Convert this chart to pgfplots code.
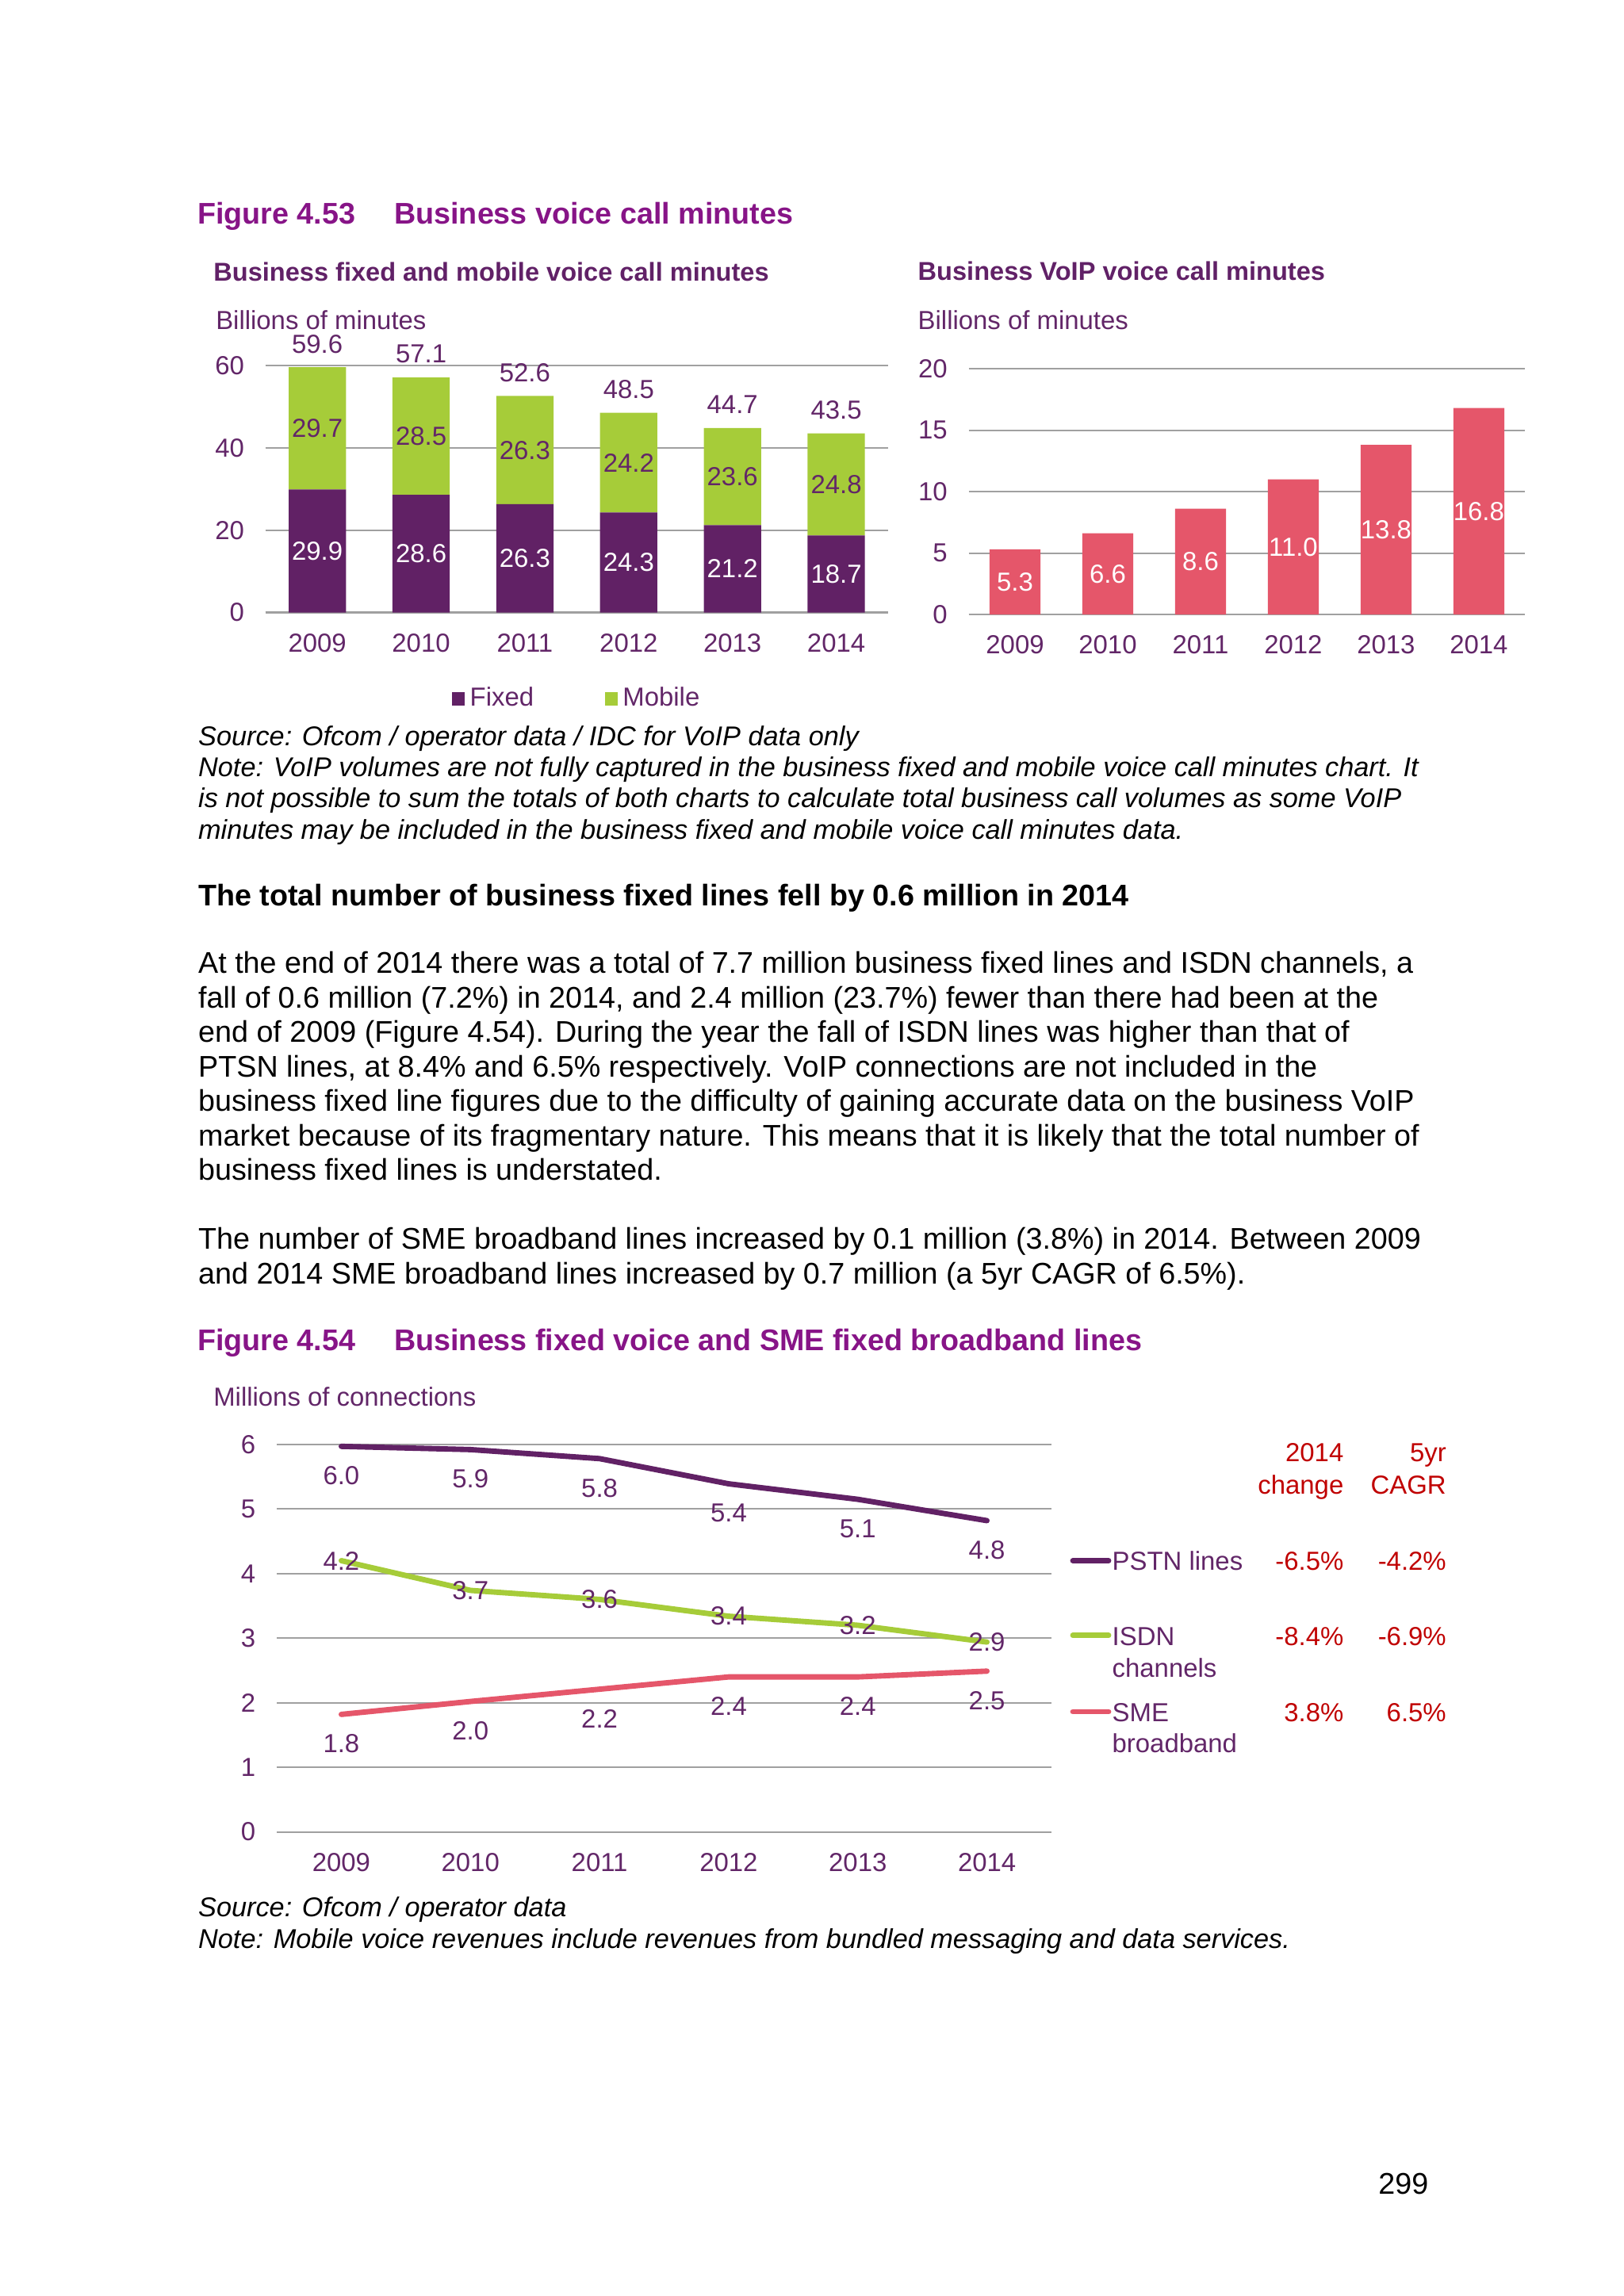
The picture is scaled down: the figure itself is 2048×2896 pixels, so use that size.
\documentclass[border=0pt]{standalone}
\usepackage{fontspec}
\setmainfont{Liberation Sans}
\usepackage{pgfplots}
\pgfplotsset{compat=1.18}

\definecolor{titlepurple}{RGB}{135,20,135}
\definecolor{darkpurple}{RGB}{97,33,103}
\definecolor{txtpurple}{RGB}{98,38,104}
\definecolor{fixedc}{RGB}{97,33,101}
\definecolor{mobilec}{RGB}{166,204,57}
\definecolor{pinkc}{RGB}{229,86,106}
\definecolor{gridc}{RGB}{160,160,160}
\definecolor{tablered}{RGB}{192,0,0}

\newcommand\chartfont{\fontsize{9.6}{11.5}\selectfont}
\newcommand\bodyfont{\fontsize{11}{12.7}\selectfont}
\newcommand\notefont{\fontsize{10}{11.5}\selectfont\itshape}
\newcommand\titlefont{\fontsize{11}{13}\selectfont\bfseries}
\newcommand\subfont{\fontsize{9.5}{11}\selectfont\bfseries}
% text line at (x,y) in page pixels, y = baseline
\newcommand\txt[4][]{\node[anchor=base west,inner sep=0pt,#1] at (#2,#3) {#4};}
\newcommand\rtxt[4][]{\node[anchor=base east,inner sep=0pt,#1] at (#2,#3) {#4};}

\pgfplotsset{
  myaxis/.style={
    scale only axis,
    axis x line*=bottom, axis y line*=left,
    y axis line style={draw=none},
    x axis line style={gridc,line width=0.6pt},
    ytick style={draw=none}, xtick style={draw=none},
    ymajorgrids, major grid style={gridc,line width=0.6pt},
    xmin=-0.5, xmax=5.5, xtick={0,...,5},
    xticklabels={2009,2010,2011,2012,2013,2014},
    minor xtick={-0.5,0.5,...,5.5},
    minor x tick style={gridc,line width=0.6pt},
    minor tick length=0.1cm, tick align=outside,
    ticklabel style={font=\chartfont,text=txtpurple},
    /pgf/number format/assume math mode=true,
    clip=false,
  },
  barlab/.style={nodes near coords, point meta=explicit symbolic,
    visualization depends on={rawy \as \rawy},
    every node near coord/.append style={font=\chartfont,text=#1,anchor=center}},
  sq/.style={legend image code/.code={\fill[##1] (0cm,-0.09cm) rectangle (0.16cm,0.09cm);}},
}

\begin{document}
\begin{tikzpicture}[x=0.0102539cm,y=-0.0102539cm]
\path[use as bounding box,fill=white] (0,0) rectangle (2048,2896);

% ---- Figure 4.53 ----
\txt[font=\titlefont,text=titlepurple]{248.6}{282}{Figure 4.53}
\txt[font=\titlefont,text=titlepurple]{496.6}{282}{Business voice call minutes}
\txt[font=\subfont,text=darkpurple]{268.7}{354.5}{Business fixed and mobile voice call minutes}
\txt[font=\subfont,text=darkpurple]{1157}{353.5}{Business VoIP voice call minutes}
\txt[font=\chartfont,text=txtpurple]{271.6}{415}{Billions of minutes}
\txt[font=\chartfont,text=txtpurple]{1157}{415}{Billions of minutes}

\begin{axis}[myaxis, at={(3.4320cm,-7.9211cm)}, anchor=south west,
  width=8.0524cm, height=3.1941cm,
  ybar stacked, bar width=0.7414cm, stacked ignores zero=false,
  ymin=0, ymax=60, ytick={0,20,40,60},
  legend style={at={(0.503,-0.35)}, anchor=center, draw=none, fill=none,
    legend columns=-1, font=\chartfont, text=txtpurple,
    /tikz/every even column/.append style={column sep=0.85cm}},
  ]
\addplot[fill=fixedc, draw=none, sq, barlab=white]
  coordinates {(0,29.9)[29.9] (1,28.6)[28.6] (2,26.3)[26.3] (3,24.3)[24.3] (4,21.2)[21.2] (5,18.7)[18.7]};
\addlegendentry{Fixed}
\addplot[fill=mobilec, draw=none, sq, barlab=txtpurple]
  coordinates {(0,29.7)[29.7] (1,28.5)[28.5] (2,26.3)[26.3] (3,24.2)[24.2] (4,23.6)[23.6] (5,24.8)[24.8]};
\addlegendentry{Mobile}
\addplot[draw=none, fill=none, forget plot, barlab=txtpurple,
  every node near coord/.append style={yshift=0.30cm}]
  coordinates {(0,0)[59.6] (1,0)[57.1] (2,0)[52.6] (3,0)[48.5] (4,0)[44.7] (5,0)[43.5]};
\end{axis}

\begin{axis}[myaxis, at={(12.5251cm,-7.9468cm)}, anchor=south west,
  width=7.1972cm, height=3.1787cm,
  ybar, bar width=0.6593cm,
  ymin=0, ymax=20, ytick={0,5,...,20},
  ]
\addplot[fill=pinkc, draw=none, barlab=white,
  every node near coord/.append style={yshift=-\rawy*0.07947cm}]
  coordinates {(0,5.3)[5.3] (1,6.6)[6.6] (2,8.6)[8.6] (3,11.0)[11.0] (4,13.8)[13.8] (5,16.8)[16.8]};
\end{axis}

% ---- Source / note ----
\txt[font=\notefont]{249.5}{940}{Source: Ofcom / operator data / IDC for VoIP data only}
\txt[font=\notefont]{249.5}{979}{Note: VoIP volumes are not fully captured in the business fixed and mobile voice call minutes chart. It}
\txt[font=\notefont]{249.5}{1018.6}{is not possible to sum the totals of both charts to calculate total business call volumes as some VoIP}
\txt[font=\notefont]{249.5}{1058.2}{minutes may be included in the business fixed and mobile voice call minutes data.}

% ---- body text ----
\txt[font=\titlefont]{249.5}{1142.5}{The total number of business fixed lines fell by 0.6 million in 2014}
\txt[font=\bodyfont]{249.5}{1227.5}{At the end of 2014 there was a total of 7.7 million business fixed lines and ISDN channels, a}
\txt[font=\bodyfont]{249.5}{1271}{fall of 0.6 million (7.2\%) in 2014, and 2.4 million (23.7\%) fewer than there had been at the}
\txt[font=\bodyfont]{249.5}{1314.5}{end of 2009 (Figure 4.54). During the year the fall of ISDN lines was higher than that of}
\txt[font=\bodyfont]{249.5}{1358}{PTSN lines, at 8.4\% and 6.5\% respectively. VoIP connections are not included in the}
\txt[font=\bodyfont]{249.5}{1401.5}{business fixed line figures due to the difficulty of gaining accurate data on the business VoIP}
\txt[font=\bodyfont]{249.5}{1445}{market because of its fragmentary nature. This means that it is likely that the total number of}
\txt[font=\bodyfont]{249.5}{1488.5}{business fixed lines is understated.}
\txt[font=\bodyfont]{249.5}{1575.5}{The number of SME broadband lines increased by 0.1 million (3.8\%) in 2014. Between 2009}
\txt[font=\bodyfont]{249.5}{1619}{and 2014 SME broadband lines increased by 0.7 million (a 5yr CAGR of 6.5\%).}

% ---- Figure 4.54 ----
\txt[font=\titlefont,text=titlepurple]{248.6}{1703}{Figure 4.54}
\txt[font=\titlefont,text=titlepurple]{496.6}{1703}{Business fixed voice and SME fixed broadband lines}
\txt[font=\chartfont,text=txtpurple]{268.6}{1773}{Millions of connections}

\begin{axis}[myaxis, at={(3.5786cm,-23.6927cm)}, anchor=south west,
  width=10.0181cm, height=5.0121cm,
  ymin=0, ymax=6, ytick={0,...,6},
  every node near coord/.append style={font=\chartfont,text=txtpurple,anchor=center},
  ]
\addplot[fixedc, line width=2pt, line cap=round, line join=round,
  nodes near coords, point meta=explicit symbolic,
  every node near coord/.append style={yshift=-0.38cm}]
  coordinates {(0,5.97)[6.0] (1,5.92)[5.9] (2,5.78)[5.8] (3,5.39)[5.4] (4,5.15)[5.1] (5,4.82)[4.8]};
\addplot[mobilec, line width=2pt, line cap=round, line join=round,
  nodes near coords, point meta=explicit symbolic]
  coordinates {(0,4.20)[4.2] (1,3.74)[3.7] (2,3.60)[3.6] (3,3.34)[3.4] (4,3.20)[3.2] (5,2.94)[2.9]};
\addplot[pinkc, line width=2pt, line cap=round, line join=round,
  nodes near coords, point meta=explicit symbolic,
  every node near coord/.append style={yshift=-0.38cm}]
  coordinates {(0,1.82)[1.8] (1,2.02)[2.0] (2,2.21)[2.2] (3,2.40)[2.4] (4,2.40)[2.4] (5,2.49)[2.5]};
\end{axis}

% legend and change table
\draw[fixedc,line width=2pt,line cap=round] (1353,1968.5) -- (1398,1968.5);
\draw[mobilec,line width=2pt,line cap=round] (1353,2062.8) -- (1398,2062.8);
\draw[pinkc,line width=2pt,line cap=round] (1353,2159) -- (1398,2159);
\txt[font=\chartfont,text=txtpurple]{1402}{1980.5}{PSTN lines}
\txt[font=\chartfont,text=txtpurple]{1402}{2075}{ISDN}
\txt[font=\chartfont,text=txtpurple]{1402}{2115.5}{channels}
\txt[font=\chartfont,text=txtpurple]{1402}{2171}{SME}
\txt[font=\chartfont,text=txtpurple]{1402}{2210}{broadband}
\rtxt[font=\chartfont,text=tablered]{1695}{1843.5}{2014}
\rtxt[font=\chartfont,text=tablered]{1695}{1884.5}{change}
\rtxt[font=\chartfont,text=tablered]{1824.4}{1843.5}{5yr}
\rtxt[font=\chartfont,text=tablered]{1824.4}{1884.5}{CAGR}
\rtxt[font=\chartfont,text=tablered]{1695}{1980.5}{-6.5\%}
\rtxt[font=\chartfont,text=tablered]{1824.4}{1980.5}{-4.2\%}
\rtxt[font=\chartfont,text=tablered]{1695}{2075}{-8.4\%}
\rtxt[font=\chartfont,text=tablered]{1824.4}{2075}{-6.9\%}
\rtxt[font=\chartfont,text=tablered]{1695}{2171}{3.8\%}
\rtxt[font=\chartfont,text=tablered]{1824.4}{2171}{6.5\%}

\txt[font=\notefont]{249.5}{2417}{Source: Ofcom / operator data}
\txt[font=\notefont]{249.5}{2457.5}{Note: Mobile voice revenues include revenues from bundled messaging and data services.}
\rtxt[font=\bodyfont]{1802}{2767.5}{299}
\end{tikzpicture}
\end{document}
